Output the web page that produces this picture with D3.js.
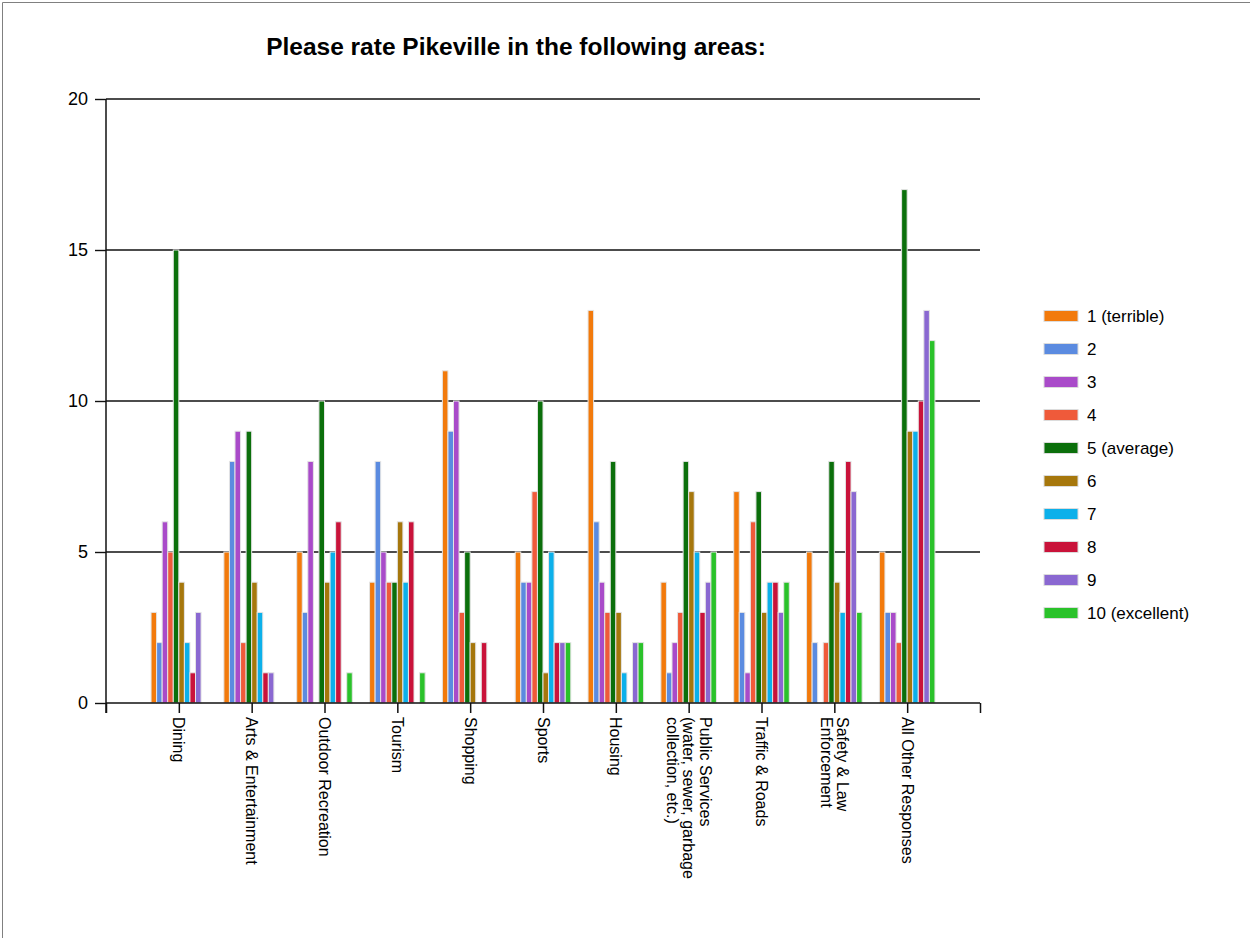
<!DOCTYPE html>
<html><head><meta charset="utf-8">
<script src="https://cdn.jsdelivr.net/npm/d3@7"></script>
<style>html,body{margin:0;padding:0;background:#fff;}svg{display:block;font-family:Arial,"Liberation Sans",sans-serif;}</style>
</head><body>
<svg id="c" width="1250" height="938"></svg>
<script>
const title = "Please rate Pikeville in the following areas:";
const categories = [
  ["Dining"],
  ["Arts & Entertainment"],
  ["Outdoor Recreation"],
  ["Tourism"],
  ["Shopping"],
  ["Sports"],
  ["Housing"],
  ["Public Services", "(water, sewer, garbage", "collection, etc.)"],
  ["Traffic & Roads"],
  ["Safety & Law", "Enforcement"],
  ["All Other Responses"]
];
const seriesNames = ["1 (terrible)","2","3","4","5 (average)","6","7","8","9","10 (excellent)"];
const seriesColors = ["#f27a0c","#5b8be0","#a94bc9","#ef5a3a","#0b6f0b","#a6770c","#0cb0ea","#c9133a","#8a68d1","#2ac22a"];
// values[category][series]
const dining      = [3,2,6,5,15,4,2,1,3,0];
const arts        = [5,8,9,2,9,4,3,1,1,0];
const outdoor     = [5,3,8,0,10,4,5,6,0,1];
const tourism     = [4,8,5,4,4,6,4,6,0,1];
const shopping    = [11,9,10,3,5,2,0,2,0,0];
const sports      = [5,4,4,7,10,1,5,2,2,2];
const housing     = [13,6,4,3,8,3,1,0,2,2];
const publicSvc   = [4,1,2,3,8,7,5,3,4,5];
const traffic     = [7,3,1,6,7,3,4,4,3,4];
const safety      = [5,2,0,2,8,4,3,8,7,3];
const allOther    = [5,3,3,2,17,9,9,10,13,12];
const values = [dining, arts, outdoor, tourism, shopping, sports, housing, publicSvc, traffic, safety, allOther];
const yTicks = [0,5,10,15,20];

const svg = d3.select("#c");
const L = 106, R = 980, T = 99, B = 703;

// frame lines (top & left)
svg.append("line").attr("x1",2.5).attr("x2",1250).attr("y1",2.5).attr("y2",2.5).attr("stroke","#808080").attr("stroke-width",1);
svg.append("line").attr("x1",2.5).attr("x2",2.5).attr("y1",2.5).attr("y2",938).attr("stroke","#808080").attr("stroke-width",1);

svg.append("text").attr("x",516).attr("y",55).attr("text-anchor","middle")
  .attr("font-size",24.5).attr("font-weight","bold").attr("fill","#000").text(title);

const x = d3.scaleLinear().domain([0, categories.length + 1]).range([L, R]);
const y = d3.scaleLinear().domain([0, 20]).range([B, T]);
const step = x(1) - x(0);
const groupW = step * 0.763;
const inner = d3.scaleBand().domain(d3.range(seriesNames.length)).range([-groupW/2, groupW/2]);

// gridlines
svg.append("g").selectAll("line").data(yTicks.filter(d => d > 0)).join("line")
  .attr("x1", L).attr("x2", R).attr("y1", d => y(d)).attr("y2", d => y(d))
  .attr("stroke","#111").attr("stroke-width",1.4);

// bars
const g = svg.append("g");
values.forEach((vals, ci) => {
  g.append("g").selectAll("rect").data(vals.map((v, si) => ({v, si}))).join("rect")
    .filter(d => d.v > 0)
    .attr("x", d => x(ci + 1) + inner(d.si))
    .attr("width", inner.bandwidth())
    .attr("y", d => y(d.v))
    .attr("height", d => y(0) - y(d.v))
    .attr("fill", d => seriesColors[d.si])
    .attr("stroke", "#e4e4e4").attr("stroke-width", 1);
});

// y axis
const yAxis = d3.axisLeft(y).tickValues(yTicks).tickSize(11).tickPadding(7).tickFormat(d3.format("d"));
const ya = svg.append("g").attr("transform", `translate(${L},0)`).call(yAxis);
ya.select(".domain").remove();
ya.selectAll(".tick line").attr("stroke","#111").attr("stroke-width",1.4);
ya.selectAll("text").attr("font-size",18).attr("fill","#000").attr("font-family","Arial, 'Liberation Sans', sans-serif");
svg.append("line").attr("x1",L).attr("x2",L).attr("y1",T).attr("y2",B+10).attr("stroke","#111").attr("stroke-width",1.5);

// x axis
const xAxis = d3.axisBottom(x).tickValues(d3.range(0, categories.length + 2)).tickSize(10).tickFormat("");
const xa = svg.append("g").attr("transform", `translate(0,${B})`).call(xAxis);
xa.select(".domain").remove();
xa.selectAll(".tick line").attr("stroke","#111").attr("stroke-width",1.5);
svg.append("line").attr("x1",L).attr("x2",R).attr("y1",B).attr("y2",B).attr("stroke","#111").attr("stroke-width",1.5);

// category labels rotated
const lh = 16.5;
categories.forEach((lines, ci) => {
  const t = svg.append("text")
    .attr("transform", `translate(${x(ci+1)},717) rotate(90)`)
    .attr("font-size",16).attr("fill","#000");
  lines.forEach((ln, li) => {
    t.append("tspan").attr("x",0).attr("y", (li - (lines.length-1)/2) * lh)
      .attr("dominant-baseline","central").text(ln);
  });
});

// legend
const lg = svg.append("g");
seriesNames.forEach((n, i) => {
  const cy = 316 + i * 33;
  lg.append("rect").attr("x",1044).attr("y",cy-5.5).attr("width",34).attr("height",11)
    .attr("fill",seriesColors[i]).attr("stroke","#dcdcdc").attr("stroke-width",1);
  lg.append("text").attr("x",1087).attr("y",cy).attr("dominant-baseline","central")
    .attr("font-size",17).attr("fill","#000").text(n);
});
</script>
</body></html>
